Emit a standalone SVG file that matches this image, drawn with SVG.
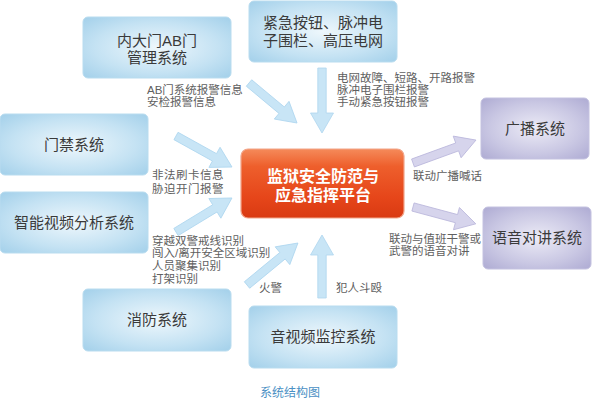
<svg xmlns="http://www.w3.org/2000/svg" width="592" height="400" viewBox="0 0 592 400">
<defs>
<radialGradient id="gb" cx="50%" cy="50%" r="70%">
<stop offset="0" stop-color="#eef7fc"/>
<stop offset="0.6" stop-color="#c4e2f3"/>
<stop offset="1" stop-color="#a3d0ea"/>
</radialGradient>
<radialGradient id="gp" cx="50%" cy="50%" r="70%">
<stop offset="0" stop-color="#ecebf6"/>
<stop offset="0.6" stop-color="#c9c7e3"/>
<stop offset="1" stop-color="#aeabd3"/>
</radialGradient>
<linearGradient id="gc" x1="0" y1="0" x2="0" y2="1">
<stop offset="0" stop-color="#f58a5a"/>
<stop offset="0.25" stop-color="#ee5f2c"/>
<stop offset="0.7" stop-color="#e6461a"/>
<stop offset="1" stop-color="#d93a12"/>
</linearGradient>
</defs>
<style>
.bb{fill:url(#gb);stroke:#b9dcef;stroke-width:1}
.pb{fill:url(#gp);stroke:#c4c2e0;stroke-width:1}
.bt{font-family:"Liberation Sans","Noto Sans CJK SC",sans-serif;font-size:15px;fill:#3a3a3a;text-anchor:middle}
.lt{font-family:"Liberation Sans","Noto Sans CJK SC",sans-serif;font-size:11.5px;fill:#606060}
.ct{font-family:"Liberation Sans","Noto Sans CJK SC",sans-serif;font-size:16px;font-weight:bold;fill:#fff;text-anchor:middle}
.ab{fill:#c8e5f6;stroke:#aed6ef;stroke-width:0.8}
.ap{fill:#d6d4ec;stroke:#bab7dc;stroke-width:0.8}
</style>
<rect width="592" height="400" fill="#fff"/>
<g id="connectors">
<path class="ab" transform="translate(249,83) rotate(39.8)" d="M0,-4.2 H42.5 V-11.5 L62.5,0 L42.5,11.5 V4.2 H0 Z"/>
<path class="ab" transform="translate(322,68) rotate(90)" d="M0,-4.2 H45 V-11.5 L65,0 L45,11.5 V4.2 H0 Z"/>
<path class="ab" transform="translate(176,136) rotate(29)" d="M0,-4.2 H44 V-11.5 L64,0 L44,11.5 V4.2 H0 Z"/>
<path class="ab" transform="translate(176,232) rotate(-31.3)" d="M0,-4.2 H45.5 V-11.5 L65.5,0 L45.5,11.5 V4.2 H0 Z"/>
<path class="ab" transform="translate(247,285) rotate(-39.5)" d="M0,-4.2 H46 V-11.5 L66,0 L46,11.5 V4.2 H0 Z"/>
<path class="ab" transform="translate(322,298) rotate(-90)" d="M0,-4.2 H43 V-11.5 L63,0 L43,11.5 V4.2 H0 Z"/>
<path class="ap" transform="translate(413,163) rotate(-20)" d="M0,-4.2 H47 V-11.5 L67,0 L47,11.5 V4.2 H0 Z"/>
<path class="ap" transform="translate(413,207) rotate(15)" d="M0,-4.2 H45 V-11.5 L65,0 L45,11.5 V4.2 H0 Z"/>
</g>
<g id="labels">
<text class="lt" x="147" y="94">AB门系统报警信息</text>
<text class="lt" x="147" y="106">安检报警信息</text>
<text class="lt" x="337" y="82">电网故障、短路、开路报警</text>
<text class="lt" x="337" y="94">脉冲电子围栏报警</text>
<text class="lt" x="337" y="106">手动紧急按钮报警</text>
<text class="lt" x="152" y="179" style="letter-spacing:0.5px">非法刷卡信息</text>
<text class="lt" x="152" y="193" style="letter-spacing:0.5px">胁迫开门报警</text>
<text class="lt" x="413" y="180">联动广播喊话</text>
<text class="lt" x="152" y="245">穿越双警戒线识别</text>
<text class="lt" x="152" y="257">闯入/离开安全区域识别</text>
<text class="lt" x="152" y="270">人员聚集识别</text>
<text class="lt" x="152" y="283">打架识别</text>
<text class="lt" x="259" y="292">火警</text>
<text class="lt" x="336" y="292">犯人斗殴</text>
<text class="lt" x="389" y="243">联动与值班干警或</text>
<text class="lt" x="389" y="255">武警的语音对讲</text>
</g>
<g id="n-ab">
<rect class="bb" x="83" y="17" width="148" height="61" rx="5"/>
<text class="bt" x="157" y="46">内大门AB门</text>
<text class="bt" x="157" y="63">管理系统</text>
</g>
<g id="n-emerg">
<rect class="bb" x="249" y="1" width="148" height="61" rx="5"/>
<text class="bt" x="323" y="28">紧急按钮、脉冲电</text>
<text class="bt" x="323" y="46">子围栏、高压电网</text>
</g>
<g id="n-door">
<rect class="bb" x="0" y="114" width="148" height="61" rx="5"/>
<text class="bt" x="74" y="150">门禁系统</text>
</g>
<g id="n-video-analysis">
<rect class="bb" x="0" y="192" width="148" height="61" rx="5"/>
<text class="bt" x="74" y="228">智能视频分析系统</text>
</g>
<g id="n-fire">
<rect class="bb" x="83" y="289" width="148" height="62" rx="5"/>
<text class="bt" x="157" y="325">消防系统</text>
</g>
<g id="n-av">
<rect class="bb" x="249" y="306" width="148" height="62" rx="5"/>
<text class="bt" x="323" y="342">音视频监控系统</text>
</g>
<g id="n-broadcast">
<rect class="pb" x="481" y="98" width="108" height="61" rx="5"/>
<text class="bt" x="535" y="134">广播系统</text>
</g>
<g id="n-intercom">
<rect class="pb" x="483" y="207" width="108" height="62" rx="5"/>
<text class="bt" x="537" y="243">语音对讲系统</text>
</g>
<g id="n-center">
<rect x="241" y="149" width="163" height="69" rx="7" fill="url(#gc)" stroke="#f2a58a" stroke-width="1.2"/>
<text class="ct" x="323" y="182">监狱安全防范与</text>
<text class="ct" x="323" y="201">应急指挥平台</text>
</g>
<text x="290" y="397" text-anchor="middle" font-family="Liberation Sans,Noto Sans CJK SC,sans-serif" font-size="12" fill="#4a90c4">系统结构图</text>
</svg>
